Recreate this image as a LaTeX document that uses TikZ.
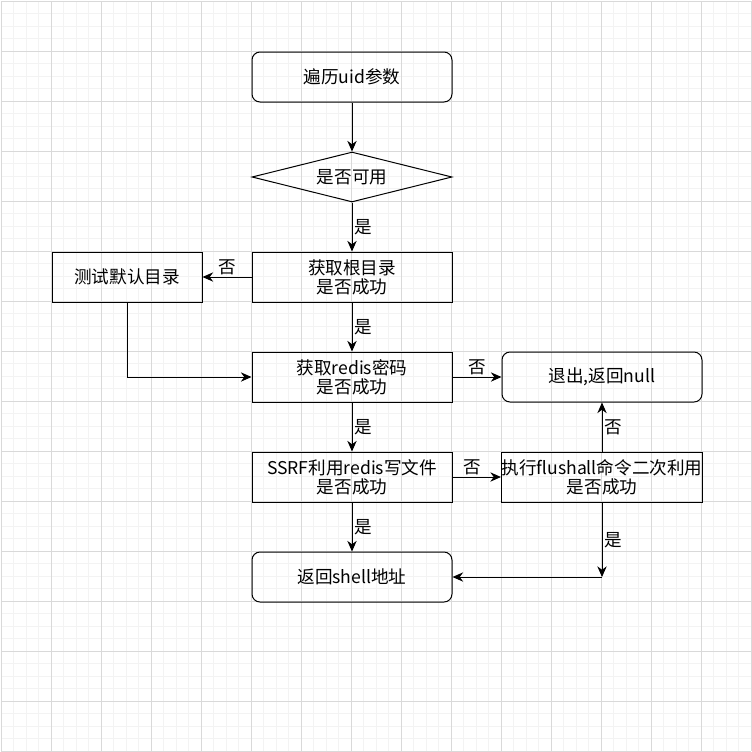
\documentclass[tikz,border=0pt]{standalone}
\usepackage{fontspec}
\setmainfont{Noto Sans CJK SC}
\usetikzlibrary{arrows.meta,positioning,shapes,calc}
\definecolor{gridminor}{RGB}{243,243,243}
\definecolor{gridmajor}{RGB}{217,217,217}

\begin{document}
\begin{tikzpicture}[x=0.75pt, y=-0.75pt,
        font=\fontsize{13.2}{14.3}\selectfont,
        box/.style={draw, line width=0.75pt, minimum width=150pt, minimum height=37.5pt, inner xsep=0pt, align=center},
        roundbox/.style={box, rounded corners=6pt},
        decision/.style={draw, line width=0.75pt, diamond, aspect=4, minimum width=150pt, minimum height=37.5pt, inner sep=0pt},
        flow/.style={line width=0.75pt, -{Stealth[length=8pt, width=7pt]}},
        elabel/.style={inner sep=1.5pt}]
        % background grid
        \fill[white] (0,0) rectangle (752,751);
        \useasboundingbox (0,0) rectangle (752,751);
        \foreach \i in {0,...,60} {
            \draw[gridminor, line width=0.75pt] (1+12.5*\i,1) -- (1+12.5*\i,751);
            \draw[gridminor, line width=0.75pt] (1,1+12.5*\i) -- (751,1+12.5*\i);
        }
        \foreach \i in {0,...,15} {
            \draw[gridmajor, line width=0.75pt] (1+50*\i,1) -- (1+50*\i,751);
            \draw[gridmajor, line width=0.75pt] (1,1+50*\i) -- (751,1+50*\i);
        }
        % nodes
        \node[roundbox] (start) at (352,77) {遍历uid参数};
        \node[decision] (usable) at (352,177) {是否可用};
        \node[box] (rootdir) at (352,277) {获取根目录\\是否成功};
        \node[box, minimum width=112.5pt] (testdir) at (127,277) {测试默认目录};
        \node[box] (redispw) at (352,377) {获取redis密码\\是否成功};
        \node[roundbox] (quit) at (602,377) {退出,返回null};
        \node[box] (ssrf) at (352,477) {SSRF利用redis写文件\\是否成功};
        \node[box] (flush) at (602,477) {执行flushall命令二次利用\\是否成功};
        \node[roundbox] (shell) at (352,577) {返回shell地址};
        \coordinate (turn) at (flush.south |- shell.east);
        % connectors
        \draw[flow] (start) -- (usable);
        \draw[flow] (usable) -- node[elabel, right] (yes1) {是} (rootdir);
        \draw[flow] (rootdir) -- node[elabel, above] (no1) {否} (testdir);
        \draw[flow] (testdir.south) |- (redispw.west);
        \draw[flow] (rootdir) -- node[elabel, right] (yes2) {是} (redispw);
        \draw[flow] (redispw) -- node[elabel, above] (no2) {否} (quit);
        \draw[flow] (redispw) -- node[elabel, right] (yes3) {是} (ssrf);
        \draw[flow] (ssrf) -- node[elabel, above, pos=0.4] (no3) {否} (flush);
        \draw[flow] (flush) -- node[elabel, right] (no4) {否} (quit);
        \draw[flow] (ssrf) -- node[elabel, right] (yes4) {是} (shell);
        \draw[flow] (flush) -- node[elabel, right] (yes5) {是} (turn);
        \draw[flow] (turn) -- (shell.east);
    \end{tikzpicture}
\end{document}
